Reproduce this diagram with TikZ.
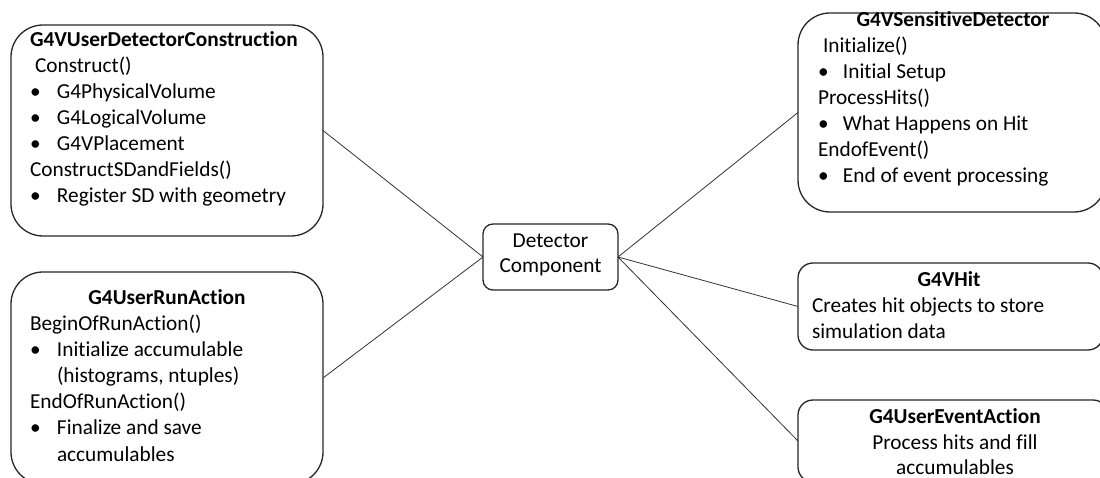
\documentclass[tikz,border=0pt]{standalone}
\usepackage{fontspec}
\setmainfont[RawFeature={-liga;-clig;-calt;-dlig}]{Carlito}
\newcommand\blt[2][26bp]{\makebox[#1][l]{\textbullet}#2}
\newcommand\ind[2][26bp]{\hspace*{#1}#2}
\begin{document}
\begin{tikzpicture}[x=1bp,y=-1bp,
  bx/.style={draw=black!85, line width=1.3bp, inner sep=0pt, outer sep=0pt},
  txt/.style={inner sep=0pt, outer sep=0pt, anchor=base west, font=\fontsize{21.3bp}{26bp}\selectfont},
  link/.style={draw=black!80, line width=0.8bp}]
\useasboundingbox (0,0) rectangle (1100,478);
\clip (0,0) rectangle (1100,478);

% boxes
\node[bx, minimum width=312bp, minimum height=211bp, rounded corners=32bp] (b1) at (167,130.5) {};
\node[bx, minimum width=312bp, minimum height=212bp, rounded corners=32bp] (b2) at (167,378) {};
\node[bx, minimum width=308bp, minimum height=199bp, rounded corners=32bp] (b3) at (952,112.5) {};
\node[bx, minimum width=305bp, minimum height=87bp, rounded corners=15bp] (b4) at (950.5,306.5) {};
\node[bx, minimum width=310bp, minimum height=82bp, rounded corners=15bp] (b5) at (953,441) {};
\node[bx, minimum width=135bp, minimum height=66bp, rounded corners=10bp] (c) at (550.5,257) {};

% texts
\node[txt] (t1) at (30,47) {\parbox[t]{292bp}{%
\textbf{G4VUserDetectorConstruction}\\
\hspace*{5bp}Construct()\\
\blt[27bp]{G4PhysicalVolume}\\
\blt[27bp]{G4LogicalVolume}\\
\blt[27bp]{G4VPlacement}\\
ConstructSDandFields()\\
\blt[27bp]{Register SD with geometry}}};

\node[txt] (t2) at (30,305) {\parbox[t]{274bp}{%
\makebox[274bp]{\textbf{G4UserRunAction}}\\
BeginOfRunAction()\\
\blt[27bp]{Initialize accumulable}\\
\ind[27bp]{(histograms, ntuples)}\\
EndOfRunAction()\\
\blt[27bp]{Finalize and save}\\
\ind[27bp]{accumulables}}};

\node[txt] (t3) at (818,27) {\parbox[t]{270bp}{%
\makebox[270bp]{\textbf{G4VSensitiveDetector}}\\
\hspace*{5bp}Initialize()\\
\blt[25bp]{Initial Setup}\\
ProcessHits()\\
\blt[25bp]{What Happens on Hit}\\
EndofEvent()\\
\blt[25bp]{End of event processing}}};

\node[txt] (t4) at (812,287) {\parbox[t]{274bp}{%
\makebox[274bp]{\textbf{G4VHit}}\\
Creates hit objects to store\\
simulation data}};

\node[txt] (t5) at (815,423) {\parbox[t]{280bp}{\centering
\textbf{G4UserEventAction}\\
Process hits and fill\\[-0.5bp]
accumulables}};

\node[txt] (tc) at (490.5,248) {\parbox[t]{120bp}{\centering Detector\\[-1bp] Component}};

% connectors
\draw[link] (b1.east) -- (c.west);
\draw[link] (b2.east) -- (c.west);
\draw[link] (c.east) -- (b3.west);
\draw[link] (c.east) -- (b4.west);
\draw[link] (c.east) -- (b5.west);
\end{tikzpicture}
\end{document}
